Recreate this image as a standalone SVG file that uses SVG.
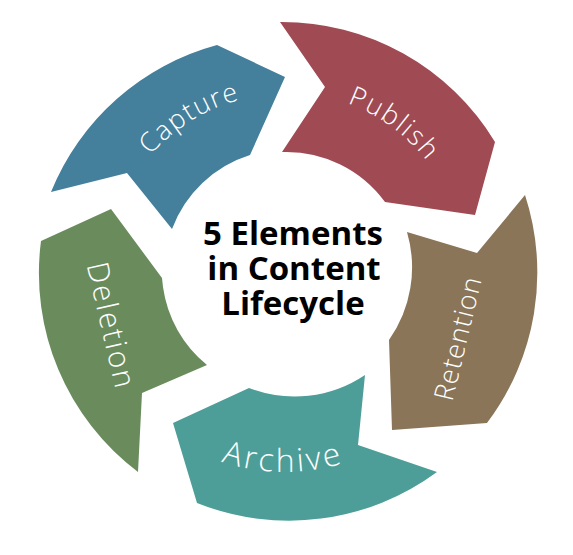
<svg xmlns="http://www.w3.org/2000/svg" width="573" height="555" viewBox="0 0 573 555">
  <style>
    .label { font-family: "Open Sans", "Lato", "DejaVu Sans", sans-serif; font-weight: 300; fill: #ffffff; text-anchor: middle; }
    .title { font-family: "Open Sans", "DejaVu Sans", sans-serif; font-weight: 700; font-size: 33px; fill: #000000; text-anchor: middle; }
  </style>
  <defs>
    <path id="tp-capture" d="M107.25,262.69 A178,178 0 0 1 354.55,108.15"/>
    <path id="tp-publish" d="M226.4,101.8 A180,180 0 0 1 464.97,275.14"/>
    <path id="tp-archive" d="M119.2,383.8 A200,200 0 0 0 446.8,389.6"/>
  </defs>
  <rect width="573" height="555" fill="#ffffff"/>
  <g id="capture">
    <path d="M51,192 A249,249 0 0 1 217,45 L285,77 L250,155 A122,122 0 0 0 172,229 L127,173 Z" fill="#447F9B"/>
    <text class="label" font-size="27"><textPath href="#tp-capture" startOffset="50%" textLength="106">Capture</textPath></text>
  </g>
  <g id="publish">
    <path d="M280,22 A249,249 0 0 1 495,142 L475,215 L385,202 A122,122 0 0 0 282,152 L325,87 Z" fill="#A04B54"/>
    <text class="label" font-size="27"><textPath href="#tp-publish" startOffset="50%" textLength="99">Publish</textPath></text>
  </g>
  <g id="retention">
    <path d="M525,195 A250,250 0 0 1 487,423 L392,430 L389,340 A126,126 0 0 0 407,232 L477,253 Z" fill="#8A7558"/>
    <text class="label" font-size="27" x="467" y="341" textLength="126" transform="rotate(-76.5 467 341)">Retention</text>
  </g>
  <g id="archive">
    <path d="M437,472 A249,249 0 0 1 197,503 L173,423 L249,388 A126,126 0 0 0 365,375 L358,445 Z" fill="#4D9E98"/>
    <text class="label" font-size="32"><textPath href="#tp-archive" startOffset="50%" textLength="123">Archive</textPath></text>
  </g>
  <g id="deletion">
    <path d="M138,472 A249,249 0 0 1 41,241 L111,209 L162,278 L163,287 A122,122 0 0 0 207,365 L142,393 Z" fill="#6A8C5D"/>
    <text class="label" font-size="30" x="101" y="327" textLength="128" transform="rotate(77 101 327)">Deletion</text>
  </g>
  <g id="center">
    <text class="title"><tspan x="293" y="245">5 Elements</tspan><tspan x="294" y="280">in Content</tspan><tspan x="293" y="315">Lifecycle</tspan></text>
  </g>
</svg>
